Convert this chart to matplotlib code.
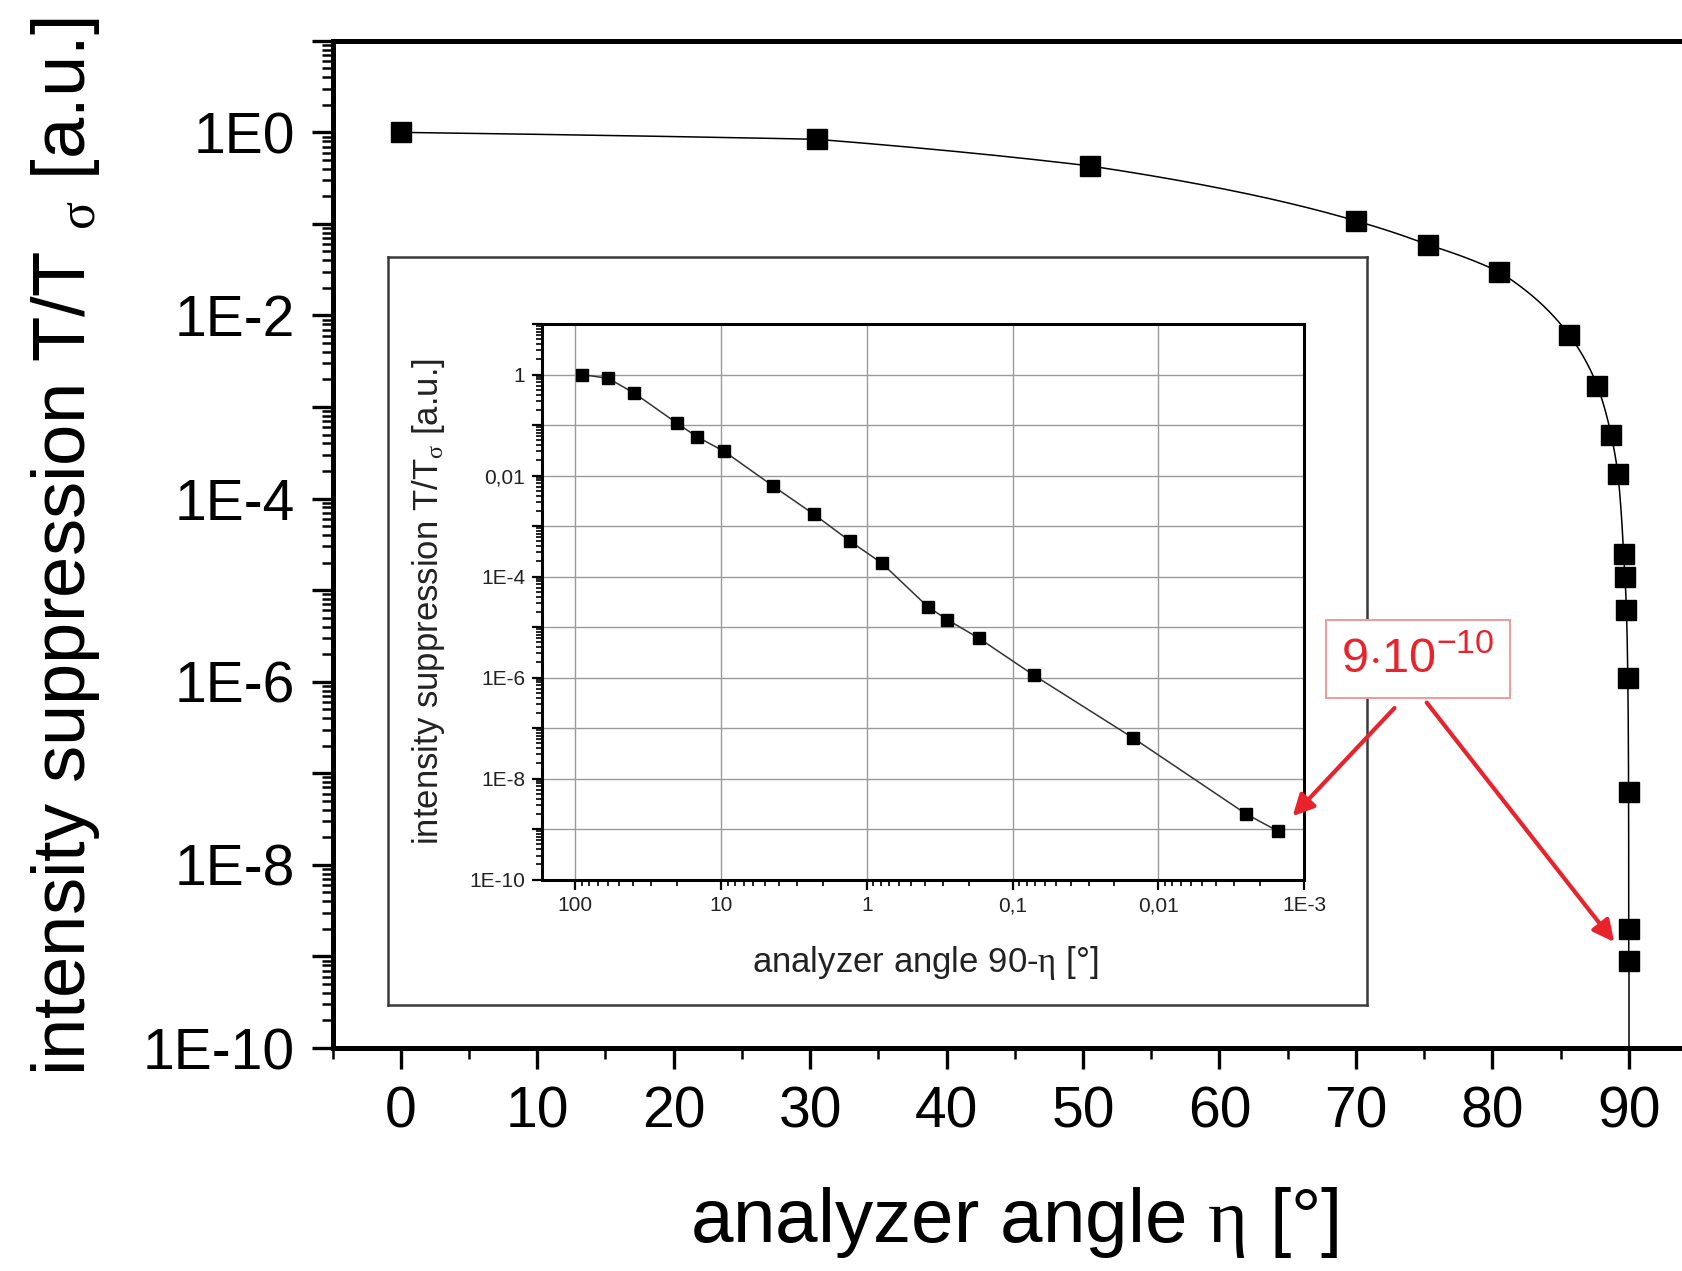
import numpy as np
import matplotlib
matplotlib.use("Agg")
import matplotlib.pyplot as plt
from matplotlib.ticker import FixedLocator, FixedFormatter, LogLocator, NullFormatter, MultipleLocator

plt.rcParams['font.family'] = ['Liberation Sans', 'DejaVu Sans']
plt.rcParams['mathtext.fontset'] = 'custom'
plt.rcParams['mathtext.rm'] = 'Liberation Serif'
plt.rcParams['mathtext.sf'] = 'Liberation Sans'
plt.rcParams['mathtext.it'] = 'Liberation Serif:italic'

# Measured suppression vs. deviation from the crossed analyzer position (90 - eta, in degrees)
deviation_deg = np.array([90.0, 59.5, 39.5, 20.0, 14.7, 9.5, 4.4, 2.3, 1.3, 0.79,
                          0.38, 0.28, 0.17, 0.071, 0.0148, 0.0025, 0.0015])
suppression = np.array([1.0, 0.84, 0.43, 0.108, 0.059, 0.030, 6.2e-3, 1.7e-3, 5.0e-4, 1.85e-4,
                        2.5e-5, 1.4e-5, 6.0e-6, 1.1e-6, 6.3e-8, 2.0e-9, 9.0e-10])
eta_deg = 90.0 - deviation_deg

main_xticks = [0, 10, 20, 30, 40, 50, 60, 70, 80, 90]
main_yticks = [1e0, 1e-2, 1e-4, 1e-6, 1e-8, 1e-10]
main_ytick_labels = ['1E0', '1E-2', '1E-4', '1E-6', '1E-8', '1E-10']
inset_xticks = [100, 10, 1, 0.1, 0.01, 0.001]
inset_xtick_labels = ['100', '10', '1', '0,1', '0,01', '1E-3']
inset_yticks = [1, 1e-2, 1e-4, 1e-6, 1e-8, 1e-10]
inset_ytick_labels = ['1', '0,01', '1E-4', '1E-6', '1E-8', '1E-10']
min_label = r'$\mathsf{9{\cdot}10^{-10}}$'

RED = '#e8232b'
W, H = 1682, 1271
fig = plt.figure(figsize=(W / 100, H / 100), dpi=100)


def fx(px):
    return px / W


def fy(py):
    return 1 - py / H


# ---------------- main axes ----------------
ax = fig.add_axes([fx(332.5), fy(1048), fx(1697 - 332.5), (1048 - 40.8) / H])
ax.set_xscale('linear')
ax.set_yscale('log')
ax.set_xlim(-5, 95)
ax.set_ylim(1e-10, 1e1)

# connecting line drawn in log-log space of the deviation, which is smooth in eta
logd = np.log10(deviation_deg)
logT = np.log10(suppression)
s = np.linspace(0, 1, 60)
line_d = np.concatenate([logd[i] + (logd[i + 1] - logd[i]) * s for i in range(len(logd) - 1)])
line_T = np.concatenate([logT[i] + (logT[i + 1] - logT[i]) * s for i in range(len(logT) - 1)])
ax.plot(90 - 10 ** line_d, 10 ** line_T, color='k', lw=1.1, zorder=2)
ax.vlines(eta_deg[-1], ax.get_ylim()[0], suppression[-1], color='k', lw=1.1, zorder=2)
ax.plot(eta_deg, suppression, ls='none', marker='s', ms=14, color='k', zorder=3)

ax.xaxis.set_major_locator(FixedLocator(main_xticks))
ax.xaxis.set_minor_locator(MultipleLocator(5))
ax.yaxis.set_major_locator(FixedLocator([10.0 ** e for e in range(-10, 2)]))
ylabels = {round(np.log10(v)): l for v, l in zip(main_yticks, main_ytick_labels)}
ax.yaxis.set_major_formatter(FixedFormatter(
    [ylabels.get(e, '') for e in range(-10, 2)]))
ax.yaxis.set_minor_locator(LogLocator(base=10, subs=np.arange(2, 10), numticks=30))
ax.yaxis.set_minor_formatter(NullFormatter())

for sp in ax.spines.values():
    sp.set_linewidth(3.6)
ax.tick_params(which='major', direction='out', length=15, width=2.4, labelsize=41, pad=12)
ax.tick_params(which='minor', direction='out', length=8, width=1.8)
ax.tick_params(axis='y', which='both', right=False)
ax.tick_params(axis='x', which='both', top=False)

ax.set_xlabel(r'analyzer angle $\mathrm{\eta}$ [°]', fontsize=55)
ax.xaxis.set_label_coords(0.4994, (1048 - 1223) / (1048 - 40.8))
ax.xaxis.label.set_va('center')
ax.set_ylabel(r'intensity suppression T/T $_{\mathrm{\sigma}}$ [a.u.]', fontsize=53.5)
ax.yaxis.set_label_coords((66 - 332.5) / (1697 - 332.5), 0.4975)
ax.yaxis.label.set_va('center')

# ---------------- framed inset ----------------
frame = fig.add_axes([fx(388), fy(1005), fx(1367 - 388), (1005 - 257) / H])
frame.set_xticks([])
frame.set_yticks([])
frame.set_facecolor('white')
for sp in frame.spines.values():
    sp.set_linewidth(1.8)
    sp.set_color('#3a3a3a')

axin = fig.add_axes([fx(541.7), fy(879.6), fx(1304 - 541.7), (879.6 - 324) / H])
axin.set_xscale('log')
axin.set_yscale('log')
axin.set_xlim(170, 1e-3)
axin.set_ylim(1e-10, 1e1)
axin.plot(deviation_deg, suppression, color='#333333', lw=1.1, zorder=2)
axin.plot(deviation_deg, suppression, ls='none', marker='s', ms=9, color='k', zorder=3)

axin.xaxis.set_major_locator(FixedLocator(inset_xticks))
axin.xaxis.set_major_formatter(FixedFormatter(inset_xtick_labels))
axin.xaxis.set_minor_locator(LogLocator(base=10, subs=np.arange(2, 10), numticks=30))
axin.xaxis.set_minor_formatter(NullFormatter())
in_decades = [10.0 ** e for e in range(-10, 2)]
inlabels = {round(np.log10(v)): l for v, l in zip(inset_yticks, inset_ytick_labels)}
axin.yaxis.set_major_locator(FixedLocator(in_decades))
axin.yaxis.set_major_formatter(FixedFormatter([inlabels.get(e, '') for e in range(-10, 2)]))
axin.yaxis.set_minor_locator(LogLocator(base=10, subs=np.arange(2, 10), numticks=30))
axin.yaxis.set_minor_formatter(NullFormatter())
axin.grid(True, which='major', color='#9a9a9a', lw=1.0)
axin.set_axisbelow(True)
for sp in axin.spines.values():
    sp.set_linewidth(2.2)
axin.tick_params(which='major', direction='out', length=7, width=1.6, labelsize=15,
                 pad=5, colors='k', labelcolor='#222222')
axin.tick_params(which='minor', direction='out', length=4, width=1.2)
axin.tick_params(which='both', top=False, right=False)
axin.set_xlabel(r'analyzer angle 90-$\mathrm{\eta}$ [°]', fontsize=25, color='#222222')
axin.xaxis.set_label_coords(0.503, -0.150)
axin.xaxis.label.set_va('center')
axin.set_ylabel(r'intensity suppression T/T$_{\mathrm{\sigma}}$ [a.u.]', fontsize=25,
                color='#222222')
axin.yaxis.set_label_coords(-0.148, 0.50)
axin.yaxis.label.set_va('center')

# ---------------- minimum value callout ----------------
fig.text(fx(1418), fy(659), min_label, fontsize=35, color=RED, ha='center', va='center',
         bbox=dict(boxstyle='square,pad=0.32', fc='white', ec='#f19a9a', lw=1.4), zorder=10)

arrow_style = dict(arrowstyle='-|>', color=RED, lw=3.0, mutation_scale=32,
                   shrinkA=0, shrinkB=15)
a1 = axin.annotate('', xy=(deviation_deg[-1], suppression[-1]), xycoords='data',
                   xytext=(fx(1394.5), fy(708)), textcoords='figure fraction',
                   arrowprops=arrow_style, annotation_clip=False, zorder=10)
a2 = axin.annotate('', xy=(eta_deg[-1], suppression[-1]), xycoords=ax.transData,
                   xytext=(fx(1426.7), fy(702.6)), textcoords='figure fraction',
                   arrowprops=dict(arrow_style, shrinkB=17), annotation_clip=False, zorder=10)
for a in (a1, a2):
    a.set_clip_on(False)
    a.arrow_patch.set_clip_on(False)

fig.savefig('out.png', dpi=100)
